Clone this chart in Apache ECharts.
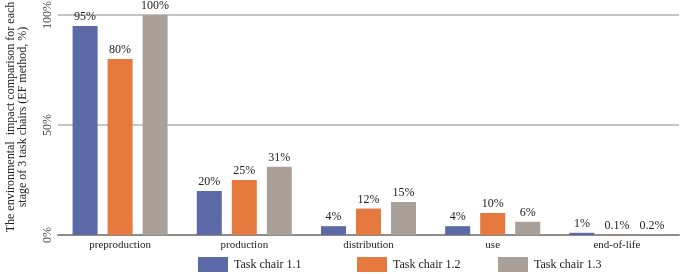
<!DOCTYPE html>
<html>
<head>
<meta charset="utf-8">
<script src="https://cdn.jsdelivr.net/npm/echarts@6/dist/echarts.min.js"></script>
<style>
  html, body { margin: 0; padding: 0; background: #fff; }
  #chart { width: 685px; height: 274px; }
</style>
</head>
<body>
<div id="chart"></div>
<script>
const stages = ['preproduction', 'production', 'distribution', 'use', 'end-of-life'];
const chair11 = [95, 20, 4, 4, 1];
const chair12 = [80, 25, 12, 10, 0.1];
const chair13 = [100, 31, 15, 6, 0.2];
const seriesNames = ['Task chair 1.1', 'Task chair 1.2', 'Task chair 1.3'];
const yTicks = [0, 50, 100];

const font = '"Liberation Serif", "Times New Roman", serif';

function barSeries(name, data, color) {
  return {
    name: name,
    type: 'bar',
    data: data,
    barWidth: 25,
    barGap: '40%',
    itemStyle: { color: color },
    label: {
      show: true,
      position: 'top',
      distance: 3,
      fontFamily: font,
      fontSize: 12,
      color: '#222',
      formatter: (p) => p.value + '%'
    }
  };
}

// one legend per item so the uneven spacing of the original can be kept
function legendItem(name, left) {
  return {
    data: [name],
    left: left,
    top: 257,
    itemWidth: 30,
    itemHeight: 15,
    icon: 'rect',
    padding: 0,
    itemGap: 0,
    textStyle: { fontFamily: font, fontSize: 12, color: '#222', padding: [0, 0, 0, 1] }
  };
}

const myChart = echarts.init(document.getElementById('chart'), null, { renderer: 'canvas' });

const option = {
  animation: false,
  textStyle: { fontFamily: font },
  grid: { left: 58, right: 6, top: 15, bottom: 39, outerBoundsMode: 'none', containLabel: false },
  legend: [
    legendItem(seriesNames[0], 198),
    legendItem(seriesNames[1], 357),
    legendItem(seriesNames[2], 498)
  ],
  xAxis: {
    type: 'category',
    data: stages,
    axisLine: { lineStyle: { color: '#8c8c8c', width: 2 } },
    axisTick: { show: false },
    axisLabel: { fontFamily: font, fontSize: 11, color: '#222', margin: 5 }
  },
  yAxis: {
    type: 'value',
    min: yTicks[0],
    max: yTicks[yTicks.length - 1],
    interval: 50,
    name: 'The environmental  impact comparison for each\nstage of 3 task chairs (EF method, %)',
    nameLocation: 'middle',
    nameGap: 29,
    nameTextStyle: { fontFamily: font, fontSize: 12, color: '#222', lineHeight: 12, padding: [0, 0, 0, 16] },
    axisLine: { show: false },
    axisTick: { show: false },
    splitLine: { lineStyle: { color: '#b0b0b0', width: 1.5 } },
    axisLabel: {
      rotate: 90,
      fontFamily: font,
      fontSize: 12,
      color: '#444',
      margin: 4,
      formatter: (v) => v + '%'
    }
  },
  series: [
    barSeries(seriesNames[0], chair11, '#5b69a6'),
    barSeries(seriesNames[1], chair12, '#e6793d'),
    barSeries(seriesNames[2], chair13, '#a9a099')
  ]
};

myChart.setOption(option);
</script>
</body>
</html>
